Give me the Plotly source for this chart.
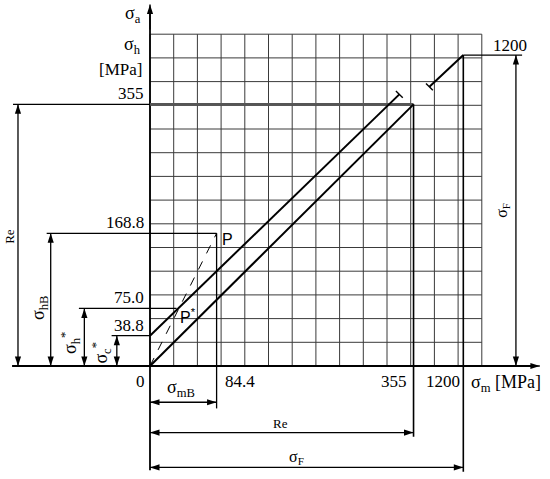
import plotly.graph_objects as go

# ---- data (diagram units: one grid cell = 1) ----
grid_cells = 14
sigma_m_labels = ["0", "84.4", "355", "1200"]
sigma_m_pos = [0.0, 2.81, 11.12, 13.22]
sigma_a_labels = ["38.8", "75.0", "168.8", "355", "1200"]
sigma_a_pos = [1.28, 2.43, 5.60, 11.04, 13.12]

lower_line_x = [0.0, 11.12]
lower_line_y = [0.0, 11.04]
upper_line_x = [0.0, 10.52]
upper_line_y = [1.28, 11.46]
break_line_x = [11.79, 13.22]
break_line_y = [11.78, 13.12]
P_point = [2.81, 5.60]
P_star = [1.12, 2.43]

# ---- figure setup ----
S = 23.7
xr = [-150 / S, 400 / S]
yr = [-113 / S, 366 / S]
SERIF = "Liberation Serif"
fig = go.Figure()


def line(xs, ys, color="black", width=1.3, dash="solid"):
    fig.add_trace(go.Scatter(x=xs, y=ys, mode="lines", hoverinfo="skip",
                             line=dict(color=color, width=width, dash=dash),
                             showlegend=False))


def text(x, y, s, size=17, xa="center", ya="middle", angle=0, family=SERIF):
    fig.add_annotation(x=x, y=y, xref="x", yref="y", text=s, showarrow=False,
                       xanchor=xa, yanchor=ya, textangle=angle,
                       font=dict(family=family, size=size, color="black"))


def arrow(x0, y0, x1, y1, both=True):
    """dimension line with arrow heads drawn as rotated markers"""
    line([x0, x1], [y0, y1], width=1.3)
    if x0 == x1:
        ang_end = 0 if y1 > y0 else 180
    else:
        ang_end = 90 if x1 > x0 else 270
    xs, ys, angs = [x1], [y1], [ang_end]
    if both:
        xs.append(x0)
        ys.append(y0)
        angs.append((ang_end + 180) % 360)
    fig.add_trace(go.Scatter(x=xs, y=ys, mode="markers", hoverinfo="skip",
                             showlegend=False,
                             marker=dict(symbol="arrow", size=10, angle=angs,
                                         color="black",
                                         line=dict(width=0))))


# grid
gx, gy = [], []
for i in range(grid_cells + 1):
    gx += [i, i, None]
    gy += [0, grid_cells, None]
    gx += [0, grid_cells, None]
    gy += [i, i, None]
line(gx, gy, color="#3a3a3a", width=1)

m0, m84, m355, m1200 = sigma_m_pos
a38, a75, a168, a355, a1200 = sigma_a_pos

# main axes
line([0, 0], [-4.4, 15.0], width=1.8)
line([-5.82, 16.2], [0, 0], width=1.8)
arrow(0, 14.2, 0, 15.25, both=False)
arrow(15.5, 0, 16.45, 0, both=False)

# 355 level lines
line([-5.78, 0], [a355, a355], width=1.3)
line([0, m355], [a355, a355], color="#555", width=2.6)
line([m355, m355], [a355, -2.98], width=1.6)
# 1200 level lines
line([m1200, 15.7], [a1200, a1200], width=1.3)
line([m1200, m1200], [a1200, -4.46], width=1.6)

# extension lines on the left
line([-4.36, m84], [a168, a168], width=1.3)
line([-3.0, P_star[0]], [a75, a75], width=1.3)
line([-1.62, 0], [a38, a38], width=1.3)
line([m84, m84], [a168, -1.79], width=1.3)

# limit lines
line(lower_line_x, lower_line_y, width=2)
line(upper_line_x, upper_line_y, width=2)
line(break_line_x, break_line_y, width=2)
# end ticks
t = 0.2
for (xe, ye) in [(upper_line_x[1], upper_line_y[1]), (break_line_x[0], break_line_y[0])]:
    line([xe - t * 0.72, xe + t * 0.72], [ye + t * 0.70, ye - t * 0.70], width=1.4)

# dashed line origin -> P
line([0, P_point[0]], [0, P_point[1]], width=1, dash="dash")

# dimension arrows - vertical left
arrow(-5.57, 0, -5.57, a355)
arrow(-4.19, 0, -4.19, a168)
arrow(-2.77, 0, -2.77, a75)
arrow(-1.40, 0, -1.40, a38)
# right vertical
arrow(15.44, 0, 15.44, a1200)
# bottom horizontal
arrow(0, -1.53, m84, -1.53)
arrow(0, -2.81, m355, -2.81)
arrow(0, -4.28, m1200, -4.28)

# y labels
text(-0.3, 14.85, "σ<sub>a</sub>", size=18, xa="right")
text(-0.3, 13.54, "σ<sub>h</sub>", size=18, xa="right")
text(-0.25, 12.49, "[MPa]", xa="right")
for lab, v in zip(sigma_a_labels[:4], sigma_a_pos[:4]):
    text(-0.17, v + 0.45, lab, xa="right")
text(14.39, a1200 + 0.42, sigma_a_labels[4], xa="left")

# x labels
text(-0.13, -0.66, sigma_m_labels[0], xa="right")
text(3.08, -0.66, sigma_m_labels[1], xa="left")
text(10.93, -0.66, sigma_m_labels[2], xa="right")
text(11.56, -0.66, sigma_m_labels[3], xa="left")
text(13.45, -0.72, "σ<sub>m</sub> [MPa]", size=18, xa="left")

# dimension labels
text(1.31, -0.93, "σ<sub>mB</sub>", size=18)
text(5.49, -2.41, "Re", size=13)
text(6.2, -3.88, "σ<sub>F</sub>", size=16)
text(-5.94, 5.46, "Re", size=13, angle=-90)
text(-4.64, 2.45, "σ<sub>hB</sub>", size=18, angle=-90)
text(-3.38, 0.97, "σ<sub>h</sub><sup>*</sup>", size=18, angle=-90)
text(-2.04, 0.55, "σ<sub>c</sub><sup>*</sup>", size=18, angle=-90)
text(14.84, 6.58, "σ<sub>F</sub>", size=16, angle=-90)
text(3.26, 5.32, "P", size=16, family="Liberation Sans")
text(1.62, 2.11, "P<sup>*</sup>", size=16, family="Liberation Sans")

fig.update_layout(
    width=550, height=479, margin=dict(l=0, r=0, t=0, b=0),
    paper_bgcolor="white", plot_bgcolor="white", showlegend=False,
    xaxis=dict(range=xr, visible=False, fixedrange=True),
    yaxis=dict(range=yr, visible=False, fixedrange=True),
)
fig.write_html("out.html", config={"displayModeBar": False},
               post_script="document.body.style.margin='0';document.body.style.padding='0';")
